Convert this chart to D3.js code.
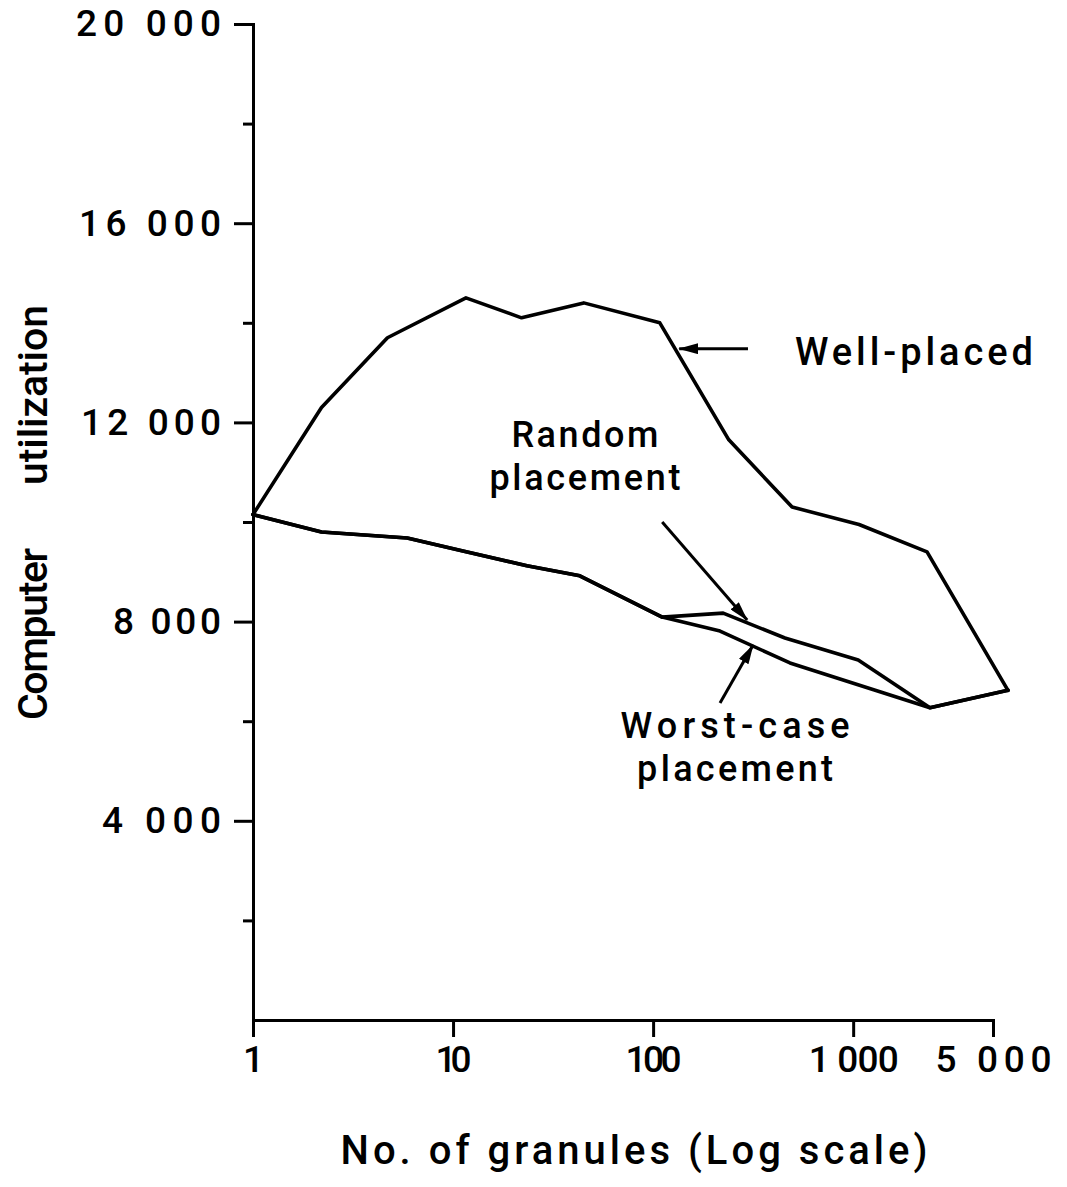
<!DOCTYPE html>
<html>
<head>
<meta charset="utf-8">
<script src="https://cdn.jsdelivr.net/npm/d3@7"></script>
<style>
  html, body { margin: 0; padding: 0; background: #fff; }
  svg { display: block; }
  text { font-family: Roboto, "DejaVu Sans", sans-serif; font-weight: 500; fill: #000; }
</style>
</head>
<body>
<svg id="chart" width="1067" height="1187"></svg>
<script>
// Computer utilization against number of granules, for three placement policies
const wellPlacedGranules = [1, 2.2, 4.7, 11.6, 22, 45, 108, 239, 495, 1070, 2340, 5940];
const wellPlacedUtil     = [10150, 12300, 13700, 14500, 14100, 14400, 14000, 11650, 10300, 9950, 9400, 6620];

const randomGranules = [1, 2.2, 5.9, 11.2, 23.4, 43, 111, 224, 456, 1060, 2420, 5940];
const randomUtil     = [10150, 9800, 9680, 9420, 9120, 8920, 8090, 8170, 7670, 7230, 6270, 6620];

const worstGranules = [1, 2.2, 5.9, 11.2, 23.4, 43, 111, 216, 483, 2420, 5940];
const worstUtil     = [10150, 9800, 9680, 9420, 9120, 8920, 8090, 7810, 7170, 6270, 6620];

// Axis ticks
const xTickValues = [1, 10, 100, 1000, 5000];
const xTickLabels = ["1", "10", "100", "1 000", "5 000"];
const yMajorTicks  = [4000, 8000, 12000, 16000, 20000];
const yMajorLabels = ["4 000", "8 000", "12 000", "16 000", "20 000"];
const yMinorTicks  = [2000, 6000, 10000, 14000, 18000];

// Curve labels and pointer arrows, anchored in data units [granules, utilization]
const annotationLines = [["Well-placed"], ["Random", "placement"], ["Worst-case", "placement"]];
const annotationAt    = [[512, 13150], [45.6, 11500], [257, 5660]];
const arrowTail       = [[298, 13480], [111, 10000], [216, 6365]];
const arrowTip        = [[135, 13480], [295, 8030], [316, 7530]];

const X_TITLE = "No. of granules (Log scale)";
const Y_TITLE = ["Computer", "utilization"];

// ---------------------------------------------------------------------------
const svg = d3.select("#chart");
const ink = "#000";

const x = d3.scaleLog().domain([1, 5000]).range([253, 993]);
const y = d3.scaleLinear().domain([0, 20000]).range([1020, 24]);

// widths of the hand-lettered tick labels
const xTickTextWidth = [12, 36, 56, 90, 116];
const yTickTextWidth = [119, 108, 140, 142, 145];

// x axis
const gx = svg.append("g")
  .attr("transform", `translate(0,${y(0)})`)
  .call(d3.axisBottom(x)
    .tickValues(xTickValues)
    .tickFormat(d => xTickLabels[xTickValues.indexOf(d)])
    .tickSize(17).tickSizeOuter(0).tickPadding(9))
  .attr("font-family", null).attr("font-size", null);
gx.select(".domain").attr("stroke", ink).attr("stroke-width", 3).attr("stroke-linecap", "square");
gx.selectAll(".tick line").attr("stroke", ink).attr("stroke-width", 3);
gx.selectAll(".tick text")
  .attr("font-size", 37)
  .each(function (d) {
    const i = xTickValues.indexOf(d);
    if (i > 0) d3.select(this).attr("textLength", xTickTextWidth[i]).attr("lengthAdjust", "spacing");
  });

// y axis: labelled major ticks
const gy = svg.append("g")
  .attr("transform", `translate(${x(1)},0)`)
  .call(d3.axisLeft(y)
    .tickValues(yMajorTicks)
    .tickFormat(d => yMajorLabels[yMajorTicks.indexOf(d)])
    .tickSize(19).tickSizeOuter(0).tickPadding(13))
  .attr("font-family", null).attr("font-size", null);
gy.select(".domain").attr("stroke", ink).attr("stroke-width", 3).attr("stroke-linecap", "square");
gy.selectAll(".tick line").attr("stroke", ink).attr("stroke-width", 3);
gy.selectAll(".tick text")
  .attr("font-size", 37)
  .each(function (d) {
    d3.select(this).attr("textLength", yTickTextWidth[yMajorTicks.indexOf(d)]).attr("lengthAdjust", "spacing");
  });

// y axis: short unlabelled ticks
const gyMinor = svg.append("g")
  .attr("transform", `translate(${x(1)},0)`)
  .call(d3.axisLeft(y).tickValues(yMinorTicks).tickFormat("").tickSize(10).tickSizeOuter(0));
gyMinor.select(".domain").remove();
gyMinor.selectAll(".tick line").attr("stroke", ink).attr("stroke-width", 3);

// curves
const line = d3.line().x(d => x(d[0])).y(d => y(d[1]));
const series = [
  d3.zip(wellPlacedGranules, wellPlacedUtil),
  d3.zip(randomGranules, randomUtil),
  d3.zip(worstGranules, worstUtil)
];
svg.append("g").selectAll("path")
  .data(series)
  .join("path")
  .attr("d", line)
  .attr("fill", "none")
  .attr("stroke", ink)
  .attr("stroke-width", 3.6)
  .attr("stroke-linejoin", "round")
  .attr("stroke-linecap", "round");

// arrowhead
svg.append("defs").append("marker")
  .attr("id", "head")
  .attr("viewBox", "0 0 20 11")
  .attr("refX", 19).attr("refY", 5.5)
  .attr("markerUnits", "userSpaceOnUse")
  .attr("markerWidth", 20).attr("markerHeight", 11)
  .attr("orient", "auto")
  .append("path")
  .attr("d", "M0,0 L20,5.5 L0,11 Z")
  .attr("fill", ink);

svg.append("g").selectAll("line")
  .data(d3.zip(arrowTail, arrowTip))
  .join("line")
  .attr("x1", d => x(d[0][0])).attr("y1", d => y(d[0][1]))
  .attr("x2", d => x(d[1][0])).attr("y2", d => y(d[1][1]))
  .attr("stroke", ink)
  .attr("stroke-width", 3)
  .attr("marker-end", "url(#head)");

// curve labels
const labelWidths = [[238], [147, 191], [229, 196]];
const labelAnchor = ["start", "middle", "middle"];
const labelSize = [38, 36, 36];
annotationLines.forEach((lines, i) => {
  const t = svg.append("text")
    .attr("x", x(annotationAt[i][0]))
    .attr("y", y(annotationAt[i][1]))
    .attr("font-size", labelSize[i])
    .attr("text-anchor", labelAnchor[i]);
  lines.forEach((s, j) => {
    t.append("tspan")
      .attr("x", x(annotationAt[i][0]))
      .attr("dy", j === 0 ? 0 : 43)
      .attr("textLength", labelWidths[i][j])
      .attr("lengthAdjust", "spacing")
      .text(s);
  });
});

// axis titles
svg.append("text")
  .attr("x", 634).attr("y", 1164)
  .attr("text-anchor", "middle")
  .attr("font-size", 40)
  .attr("textLength", 587).attr("lengthAdjust", "spacing")
  .text(X_TITLE);

const yTitleStart = [720, 485];
const yTitleWidth = [172, 180];
Y_TITLE.forEach((s, i) => {
  svg.append("text")
    .attr("transform", `translate(47,${yTitleStart[i]}) rotate(-90)`)
    .attr("font-size", 41)
    .attr("textLength", yTitleWidth[i]).attr("lengthAdjust", "spacing")
    .text(s);
});
</script>
</body>
</html>
